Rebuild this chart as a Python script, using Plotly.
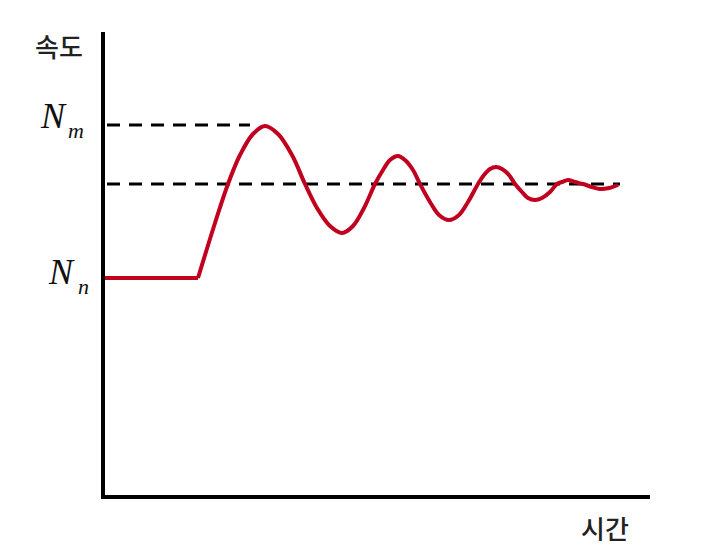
import plotly.graph_objects as go

# Data (time in arbitrary units, speed in arbitrary units)
flat_time = [0, 93]
flat_speed = [217, 217]

osc_time = [93, 110, 123, 135, 148, 160, 173, 187, 200,
            212, 225, 237, 248, 259, 270,
            278, 285, 293, 300, 308, 315,
            325, 334, 344, 354, 363, 373,
            379, 385, 391, 397, 404, 410,
            417, 423, 430, 437, 445, 452,
            457, 463, 470, 478,
            487, 495, 504, 513]
osc_speed = [217, 272, 311, 340, 361, 369, 361, 340, 311,
             287, 269, 262, 269, 287, 311,
             325, 335, 339, 335, 325, 311,
             293, 280, 275, 280, 293, 311,
             320, 326, 328, 326, 320, 311,
             303, 297, 295, 297, 303, 311,
             313, 315, 313, 311,
             308, 306, 307, 310]

N_m = 370          # maximum speed
N_steady = 311     # steady-state speed
N_n = 217          # initial speed
nm_line_end = 145
steady_line_end = 515

X_MAX = 545
Y_MAX = 463

RED = "#c0001e"

fig = go.Figure()

# dashed reference lines
fig.add_trace(go.Scatter(x=[2, nm_line_end], y=[N_m, N_m], mode="lines",
                         line=dict(color="black", width=3, dash="13px,9px"),
                         hoverinfo="skip", showlegend=False))
fig.add_trace(go.Scatter(x=[2, steady_line_end], y=[N_steady, N_steady], mode="lines",
                         line=dict(color="black", width=3, dash="13px,9px"),
                         hoverinfo="skip", showlegend=False))

# speed curve
fig.add_trace(go.Scatter(x=flat_time, y=flat_speed, mode="lines",
                         line=dict(color=RED, width=4), showlegend=False))
fig.add_trace(go.Scatter(x=osc_time, y=osc_speed, mode="lines",
                         line=dict(color=RED, width=4, shape="spline", smoothing=1,
                                   simplify=False),
                         showlegend=False))

fig.update_xaxes(range=[0, X_MAX], showline=True, linecolor="black", linewidth=4,
                 showgrid=False, zeroline=False, showticklabels=False, ticks="")
fig.update_yaxes(range=[0, Y_MAX], showline=True, linecolor="black", linewidth=4,
                 showgrid=False, zeroline=False, showticklabels=False, ticks="")

serif = "Liberation Serif"
kfont = dict(family="Noto Sans CJK KR", size=26, color="#222222", weight=500)


def px_x(px):
    return (px - 105) / 545


def px_y(py):
    return (495 - py) / 463


def label(text, cx, cy, font):
    return dict(text=text, xref="paper", yref="paper", x=px_x(cx), y=px_y(cy),
                showarrow=False, font=font, xanchor="center", yanchor="middle")


nfont = dict(family=serif, size=36, color="#111111")
sfont = dict(family=serif, size=22, color="#111111")

annotations = [
    label("속도", 59, 45, kfont),
    label("시간", 605, 527, kfont),
    label("<i>N</i>", 53, 116, nfont),
    label("<i>m</i>", 76, 130, sfont),
    label("<i>N</i>", 61, 272, nfont),
    label("<i>n</i>", 83, 286, sfont),
]

fig.update_layout(
    width=710, height=558,
    margin=dict(l=97, r=68, t=24, b=71),
    paper_bgcolor="white", plot_bgcolor="white",
    annotations=annotations,
    showlegend=False,
)

fig.write_html("out.html")
